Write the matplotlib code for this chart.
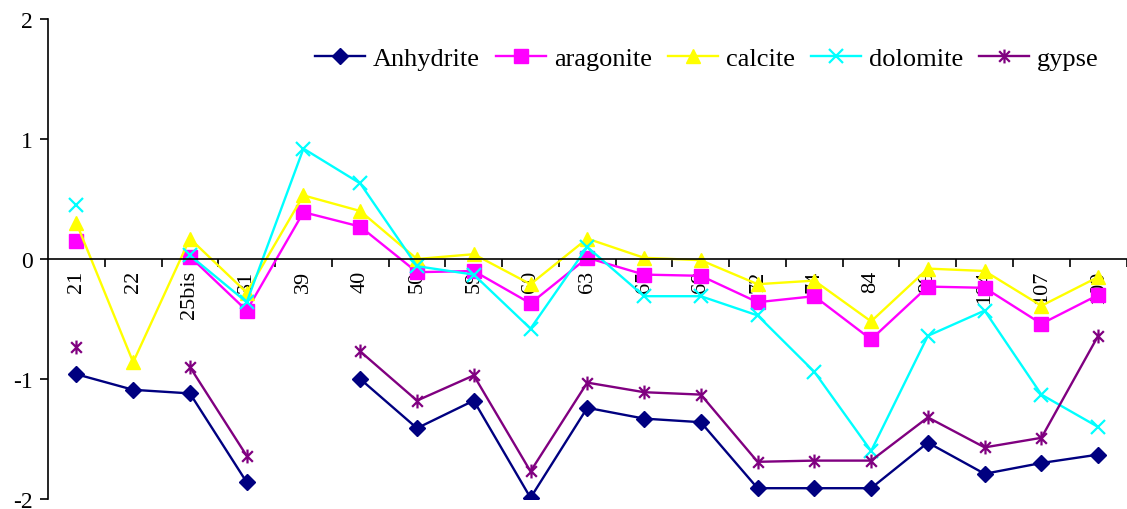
import matplotlib
matplotlib.use("Agg")
import matplotlib.pyplot as plt
from matplotlib.path import Path
import numpy as np

plt.rcParams['font.family'] = ['Liberation Serif', 'DejaVu Serif']

nan = np.nan

samples = ["21", "22", "25bis", "31", "39", "40", "50", "59", "60", "63",
           "65", "69", "72", "74", "84", "99", "104", "107", "109"]

anhydrite = [-0.96, -1.09, -1.12, -1.86, nan, -1.00, -1.41, -1.18, -1.99, -1.24,
             -1.33, -1.36, -1.91, -1.91, -1.91, -1.53, -1.79, -1.70, -1.63]
aragonite = [0.15, nan, 0.02, -0.43, 0.39, 0.27, -0.11, -0.10, -0.37, 0.01,
             -0.13, -0.14, -0.36, -0.31, -0.67, -0.23, -0.24, -0.54, -0.30]
calcite = [0.30, -0.86, 0.17, -0.28, 0.53, 0.40, 0.00, 0.04, -0.21, 0.17,
           0.01, -0.01, -0.21, -0.18, -0.52, -0.08, -0.10, -0.39, -0.15]
dolomite = [0.45, nan, 0.03, -0.36, 0.92, 0.63, -0.06, -0.13, -0.58, 0.10,
            -0.31, -0.31, -0.47, -0.94, -1.60, -0.64, -0.43, -1.13, -1.40]
gypse = [-0.73, nan, -0.90, -1.64, nan, -0.77, -1.18, -0.97, -1.77, -1.03,
         -1.11, -1.13, -1.69, -1.68, -1.68, -1.32, -1.57, -1.49, -0.64]

# Excel-like star marker: an x with a vertical bar
star = Path([(-1, -1), (1, 1), (-1, 1), (1, -1), (0, -1.3), (0, 1.3)],
            [Path.MOVETO, Path.LINETO, Path.MOVETO, Path.LINETO, Path.MOVETO, Path.LINETO])

fig = plt.figure(figsize=(11.27, 5.10), dpi=100)
ax = fig.add_axes([0.0426, 0.0196, 0.957, 0.9412])

x = np.arange(len(samples))
lw = 1.7
ax.plot(x, anhydrite, color="#000080", marker="D", markersize=8.5, lw=lw, label="Anhydrite")
ax.plot(x, aragonite, color="#FF00FF", marker="s", markersize=10, lw=lw, label="aragonite")
ax.plot(x, calcite, color="#FFFF00", marker="^", markersize=10.5, lw=lw, label="calcite")
ax.plot(x, dolomite, color="#00FFFF", marker="x", markersize=9.5, mew=1.6, lw=lw, label="dolomite")
ax.plot(x, gypse, color="#800080", marker=star, markersize=10, mew=1.6, lw=lw, label="gypse")

ax.set_xlim(-0.5, len(samples) - 0.5)
ax.set_ylim(-2, 2)
ax.set_yticks([-2, -1, 0, 1, 2])
ax.set_yticklabels(["-2", "-1", "0", "1", "2"])

ax.spines["top"].set_visible(False)
ax.spines["right"].set_visible(False)
ax.spines["bottom"].set_position(("data", 0))
ax.spines["left"].set_linewidth(1.2)
ax.spines["bottom"].set_linewidth(1.2)

ax.set_xticks(x)
ax.set_xticklabels(samples, rotation=90, va="top", fontsize=16)
ax.set_xticks(np.arange(len(samples)) + 0.5, minor=True)
ax.tick_params(axis="x", which="major", length=0, pad=8)
ax.tick_params(axis="x", which="minor", direction="out", length=6, width=1.2)
ax.tick_params(axis="y", direction="out", length=6, width=1.2, pad=5, labelsize=17)

ax.legend(loc="center right", bbox_to_anchor=(0.996, 0.884), bbox_transform=fig.transFigure,
          ncol=5, frameon=False, fontsize=19, handlelength=1.9, handletextpad=0.3,
          columnspacing=0.6)

fig.savefig("out.png", dpi=100)
